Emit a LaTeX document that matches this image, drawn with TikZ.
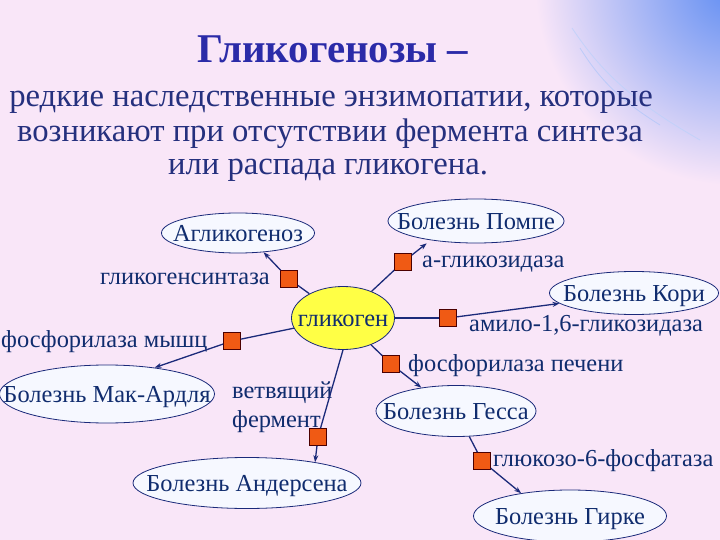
\documentclass[tikz,border=0pt]{standalone}
\usepackage{fontspec}
\setmainfont{Liberation Serif}
\usetikzlibrary{shapes.geometric,arrows.meta}
\definecolor{bgpink}{HTML}{F9E6F8}
\definecolor{titleblue}{HTML}{2B2BA8}
\definecolor{subblue}{HTML}{25307E}
\definecolor{navy}{HTML}{102C6E}
\definecolor{linenavy}{HTML}{1B2A7A}
\definecolor{sqorange}{HTML}{F05A14}
\definecolor{gly}{HTML}{FFFF45}
\definecolor{ellfill}{HTML}{F6F8FF}
\definecolor{cornerblue}{HTML}{5E8CF2}
% text centred in an ellipse without affecting its size
\newcommand{\inell}[1]{\makebox[0pt]{\smash{\raisebox{-0.36em}{#1}}}}
\tikzset{
  disease/.style={ellipse, draw=linenavy, line width=0.8bp, fill=ellfill, inner sep=0pt,
    text=navy, font=\fontsize{24.5}{27}\selectfont},
  enzsq/.style={rectangle, draw=black!70!red, line width=0.6bp, fill=sqorange,
    minimum size=17bp, inner sep=0pt},
  enzlabel/.style={text=navy, font=\fontsize{24.5}{27}\selectfont, inner sep=0pt},
  subline/.style={anchor=base, text=subblue, font=\fontsize{32.8}{36}\selectfont, inner sep=0pt},
  conn/.style={draw=linenavy, line width=1.3bp},
  arr/.style={conn, -{Stealth[length=7bp,width=5bp]}},
}
\begin{document}
\begin{tikzpicture}[x=1bp,y=-1bp]
\useasboundingbox (0,0) rectangle (720,540);
\fill[bgpink] (0,0) rectangle (720,540);
% corner decoration
\begin{scope}
\clip (0,0) rectangle (720,540);
\shade[inner color=cornerblue, outer color=bgpink] (735,-15) circle (200);
\draw[white!60!cornerblue, line width=0.8bp, opacity=0.8] (572,28) .. controls (600,70) and (630,100) .. (700,140);
\draw[white!50!cornerblue, line width=0.8bp, opacity=0.7] (580,48) .. controls (600,80) and (620,100) .. (660,125);
\end{scope}
% title
\node[anchor=base, text=titleblue, font=\bfseries\fontsize{41}{44}\selectfont, inner sep=0pt] (title) at (333,63) {Гликогенозы –};
\node[subline] (sub1) at (331,107) {редкие наследственные энзимопатии, которые};
\node[subline] (sub2) at (330,142) {возникают при отсутствии фермента синтеза};
\node[subline] (sub3) at (328,175) {или распада гликогена.};
% central node
\node[ellipse, draw=linenavy, line width=0.8bp, fill=gly, inner sep=0pt, minimum width=103bp, minimum height=63bp, text=navy, font=\fontsize{24.5}{27}\selectfont] (glyc) at (343,318) {\inell{гликоген}};
% disease ellipses
\node[disease, minimum width=153bp, minimum height=40bp] (aglik) at (238,233) {\inell{Агликогеноз}};
\node[disease, minimum width=176bp, minimum height=44bp] (pompe) at (476,221) {\inell{Болезнь Помпе}};
\node[disease, minimum width=169bp, minimum height=43bp] (kori) at (634,293) {\inell{Болезнь Кори}};
\node[disease, minimum width=215bp, minimum height=58bp] (mac) at (107,394) {\inell{Болезнь Мак-Ардля}};
\node[disease, minimum width=228bp, minimum height=51bp] (ander) at (247,483) {\inell{Болезнь Андерсена}};
\node[disease, minimum width=160bp, minimum height=51bp] (gess) at (456,411) {\inell{Болезнь Гесса}};
\node[disease, minimum width=193bp, minimum height=52bp] (girke) at (570,516) {\inell{Болезнь Гирке}};
% enzyme squares
\node[enzsq] (s1) at (289,279) {};
\node[enzsq] (s2) at (403,262) {};
\node[enzsq] (s3) at (448,318) {};
\node[enzsq] (s4) at (391,364) {};
\node[enzsq] (s5) at (232,341) {};
\node[enzsq] (s6) at (318,437) {};
\node[enzsq] (s7) at (482,461) {};
% enzyme labels
\node[enzlabel, anchor=base east] (l1) at (270,285) {гликогенсинтаза};
\node[enzlabel, anchor=base west] (l2) at (422,268) {а-гликозидаза};
\node[enzlabel, anchor=base west] (l3) at (469,331) {амило-1,6-гликозидаза};
\node[enzlabel, anchor=base west] (l4) at (408,371) {фосфорилаза печени};
\node[enzlabel, anchor=base west] (l5) at (1,347) {фосфорилаза мышц};
\node[enzlabel, anchor=base west] (l6a) at (232,398) {ветвящий};
\node[enzlabel, anchor=base west] (l6b) at (232,427) {фермент};
\node[enzlabel, anchor=base west] (l7) at (493,466) {глюкозо-6-фосфатаза};
% connectors
\draw[conn] (glyc) -- (s1);
\draw[arr] (s1) -- (aglik.323);
\draw[conn] (glyc) -- (s2);
\draw[arr, shorten >=5bp] (s2) -- (pompe.203);
\draw[conn] (glyc) -- (s3);
\draw[arr] (s3) -- (kori.188);
\draw[conn] (glyc) -- (s4);
\draw[arr] (s4) -- (gess.146);
\draw[conn] (glyc) -- (s5);
\draw[arr] (s5) -- (mac.29);
\draw[conn] (glyc.270) -- (s6);
\draw[arr] (s6) -- (ander.17);
\draw[conn] (gess) -- (s7);
\draw[arr] (s7) -- (girke.155);
\end{tikzpicture}
\end{document}
